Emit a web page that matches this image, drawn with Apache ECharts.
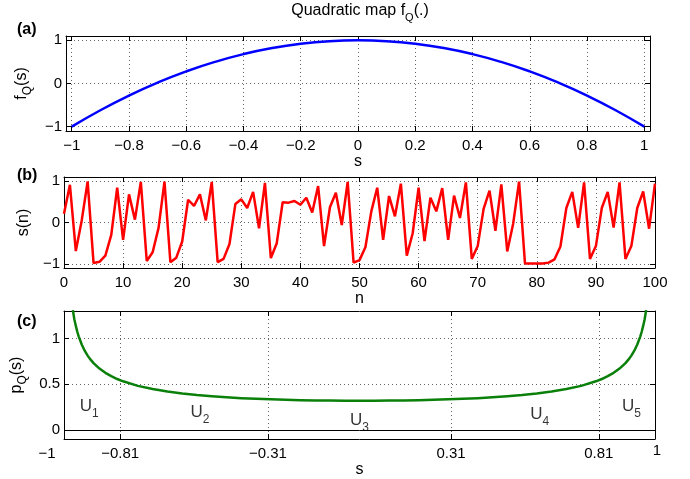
<!DOCTYPE html>
<html><head><meta charset="utf-8">
<script src="https://cdn.jsdelivr.net/npm/echarts@6/dist/echarts.min.js"></script>
<style>html,body{margin:0;padding:0;background:#fff}#c{width:690px;height:479px}</style>
</head><body><div id="c"></div>
<script>
// ---- Panel (a): quadratic map f_Q(s) ----
const sA = [-1,-0.9,-0.8,-0.7,-0.6,-0.5,-0.4,-0.3,-0.2,-0.1,0,0.1,0.2,0.3,0.4,0.5,0.6,0.7,0.8,0.9,1];
const fA = [-1,-0.62,-0.28,0.02,0.28,0.5,0.68,0.82,0.92,0.98,1,0.98,0.92,0.82,0.68,0.5,0.28,0.02,-0.28,-0.62,-1];
const xTicksA = [-1,-0.8,-0.6,-0.4,-0.2,0,0.2,0.4,0.6,0.8,1];
const yTicksA = [-1,0,1];

// ---- Panel (b): orbit s(n) ----
const nB = Array.from({length:101},(_,i)=>i);
const sB = [0.21,0.91,-0.69,0.05,0.99,-0.98,-0.95,-0.80,-0.30,0.84,
 -0.42,0.68,0.07,0.98,-0.93,-0.72,-0.13,0.99,-0.96,-0.85,
 -0.46,0.55,0.40,0.68,0.05,0.98,-0.96,-0.88,-0.52,0.45,
 0.56,0.35,0.74,-0.14,0.96,-0.86,-0.50,0.49,0.48,0.52,
 0.43,0.60,0.24,0.88,-0.57,0.37,0.72,-0.06,0.98,-0.97,
 -0.91,-0.60,0.27,0.84,-0.42,0.64,0.15,0.94,-0.80,-0.26,
 0.84,-0.45,0.60,0.27,0.83,-0.42,0.65,0.11,0.97,-0.88,
 -0.57,0.33,0.77,-0.20,0.92,-0.70,-0.03,0.99,-0.99,-0.99,
 -0.99,-0.99,-0.97,-0.89,-0.58,0.35,0.74,-0.13,0.97,-0.88,
 -0.57,0.35,0.74,-0.12,0.97,-0.88,-0.57,0.35,0.75,-0.15,
 0.94];
const xTicksB = [0,10,20,30,40,50,60,70,80,90,100];
const yTicksB = [-1,0,1];

// ---- Panel (c): invariant density p_Q(s), left half, right half mirrors it ----
const sCHalf = [-0.97,-0.965,-0.96,-0.955,-0.95,-0.94,-0.93,-0.92,-0.91,-0.90,-0.88,-0.86,-0.84,-0.82,-0.80,
  -0.75,-0.70,-0.65,-0.60,-0.55,-0.50,-0.45,-0.40,-0.35,-0.30,-0.25,-0.20,-0.15,-0.10,-0.05];
const pCHalf = [1.31,1.21,1.137,1.073,1.02,0.933,0.866,0.812,0.768,0.730,0.670,0.624,0.587,0.556,0.531,
  0.481,0.446,0.419,0.398,0.381,0.368,0.356,0.347,0.340,0.334,0.329,0.325,0.322,0.320,0.319];
const pCMid = 0.318;
const xTicksC = [-0.81,-0.31,0.31,0.81];
const xEndLabelsC = [-1,1];
const yTicksC = [0,0.5,1];
const uNames = ['1','2','3','4','5'];
const uX = [-0.915,-0.54,0,0.61,0.92];
const uY = [0.25,0.18,0.09,0.16,0.25];

const sC = [...sCHalf, 0, ...sCHalf.slice().reverse().map(v=>-v)];
const pC = [...pCHalf, pCMid, ...pCHalf.slice().reverse()];

const FONT = 'Liberation Sans, Arial, Helvetica, sans-serif';
const FS = 15;
const minus = v => String(v).replace('-', '\u2212');
const rich = {
  t:{fontSize:16, fontFamily:FONT, color:'#000', verticalAlign:'top', lineHeight:18},
  s:{fontSize:12, fontFamily:FONT, color:'#000', verticalAlign:'top', lineHeight:13, padding:[8,0,0,0]}
};
const richU = {
  t:{fontSize:17, fontFamily:FONT, color:'#000', verticalAlign:'top', lineHeight:19},
  s:{fontSize:12, fontFamily:FONT, color:'#000', verticalAlign:'top', lineHeight:13, padding:[10,0,0,0]}
};
const gridLine = {show:true, lineStyle:{color:'#666', type:[1,3], width:1}};

const grids = [
  {left:66, right:40, top:36, height:95},
  {left:64, right:35, top:177, height:91},
  {left:64, right:35, top:311, height:128}
];

function xAxes(g, min, max, ticks, name, gap){
  return [
    {type:'value', gridIndex:g, min:min, max:max, position:'bottom',
     axisLine:{show:true, onZero:false, lineStyle:{color:'#000', width:1}},
     axisTick:{show:true, inside:true, length:5, customValues:ticks, lineStyle:{color:'#000'}},
     axisLabel:{show:true, customValues:ticks, formatter:minus, color:'#000', fontSize:FS, fontFamily:FONT, margin:7},
     splitLine:gridLine,
     name:name, nameLocation:'middle', nameGap:gap,
     nameTextStyle:{color:'#000', fontSize:16, fontFamily:FONT}},
    {type:'value', gridIndex:g, min:min, max:max, position:'top',
     axisLine:{show:true, onZero:false, lineStyle:{color:'#000', width:1}},
     axisTick:{show:true, inside:true, length:5, customValues:ticks, lineStyle:{color:'#000'}},
     axisLabel:{show:false}, splitLine:{show:false}}
  ];
}
function yAxes(g, min, max, ticks, name, gap){
  return [
    {type:'value', gridIndex:g, min:min, max:max, position:'left',
     axisLine:{show:true, onZero:false, lineStyle:{color:'#000', width:1}},
     axisTick:{show:true, inside:true, length:5, customValues:ticks, lineStyle:{color:'#000'}},
     axisLabel:{show:true, customValues:ticks, formatter:minus, color:'#000', fontSize:FS, fontFamily:FONT, margin:4},
     splitLine:gridLine,
     name:name, nameLocation:'middle', nameGap:gap, nameRotate:90,
     nameTextStyle:{color:'#000', fontSize:16, fontFamily:FONT, rich:rich}},
    {type:'value', gridIndex:g, min:min, max:max, position:'right',
     axisLine:{show:true, onZero:false, lineStyle:{color:'#000', width:1}},
     axisTick:{show:true, inside:true, length:5, customValues:ticks, lineStyle:{color:'#000'}},
     axisLabel:{show:false}, splitLine:{show:false}}
  ];
}

const chart = echarts.init(document.getElementById('c'), null, {renderer:'canvas'});
const option = {
  animation:false,
  backgroundColor:'#fff',
  grid:grids,
  xAxis:[
    ...xAxes(0,-1.02,1.02,xTicksA,'s',18),
    ...xAxes(1,0,100,xTicksB,'n',18),
    ...xAxes(2,-1,1,xTicksC,'s',20)
  ],
  yAxis:[
    ...yAxes(0,-1.1,1.1,yTicksA,'{t|f}{s|Q}{t|(s)}',25),
    ...yAxes(1,-1.1,1.1,yTicksB,'{t|s(n)}',23),
    ...yAxes(2,-0.1,1.3,yTicksC,'{t|p}{s|Q}{t|(s)}',33)
  ],
  series:[
    {type:'line', xAxisIndex:0, yAxisIndex:0, data:sA.map((s,i)=>[s,fA[i]]),
     smooth:true, symbol:'none', lineStyle:{color:'#0000ff', width:2.5}},
    {type:'line', xAxisIndex:2, yAxisIndex:2, data:nB.map((n,i)=>[n,sB[i]]),
     symbol:'none', lineStyle:{color:'#ff0000', width:2.5}},
    {type:'line', xAxisIndex:4, yAxisIndex:4, data:sC.map((s,i)=>[s,pC[i]]),
     smooth:false, symbol:'none', lineStyle:{color:'#0a800a', width:2.5, join:'round'},
     markLine:{silent:true, symbol:'none', label:{show:false}, data:[{yAxis:0}],
               lineStyle:{color:'#000', type:'solid', width:1}}},
    {type:'scatter', xAxisIndex:4, yAxisIndex:4, symbolSize:0,
     data:uX.map((x,i)=>[x,uY[i],uNames[i]]),
     label:{show:true, position:'inside', formatter:p=>'{t|U}{s|'+p.value[2]+'}', rich:richU}}
  ],
  graphic:[
    {id:'title', type:'text', x:360, y:3, style:{text:'{t|Quadratic map f}{s|Q}{t|(.)}', align:'center', rich:{
      t:{fontSize:16, fontFamily:FONT, fill:'#000', verticalAlign:'top', lineHeight:18},
      s:{fontSize:11, fontFamily:FONT, fill:'#000', verticalAlign:'top', lineHeight:12, padding:[9,0,0,0]}}}},
    {id:'la', type:'text', x:17, y:22, style:{text:'(a)', font:'bold 16px '+FONT, fill:'#000'}},
    {id:'lb', type:'text', x:17, y:168, style:{text:'(b)', font:'bold 16px '+FONT, fill:'#000'}},
    {id:'lc', type:'text', x:17, y:314, style:{text:'(c)', font:'bold 16px '+FONT, fill:'#000'}}
  ]
};
chart.setOption(option);
// end labels of panel (c) axis, placed next to the axis ends
const xl = chart.convertToPixel({xAxisIndex:4}, xEndLabelsC[0]);
const xr = chart.convertToPixel({xAxisIndex:4}, xEndLabelsC[1]);
chart.setOption({graphic:[
  {id:'endL', type:'text', x:xl-17, y:446, style:{text:minus(xEndLabelsC[0]), align:'center', font:FS+'px '+FONT, fill:'#000'}},
  {id:'endR', type:'text', x:xr+2, y:443, style:{text:minus(xEndLabelsC[1]), align:'center', font:FS+'px '+FONT, fill:'#000'}}
]});
</script></body></html>
